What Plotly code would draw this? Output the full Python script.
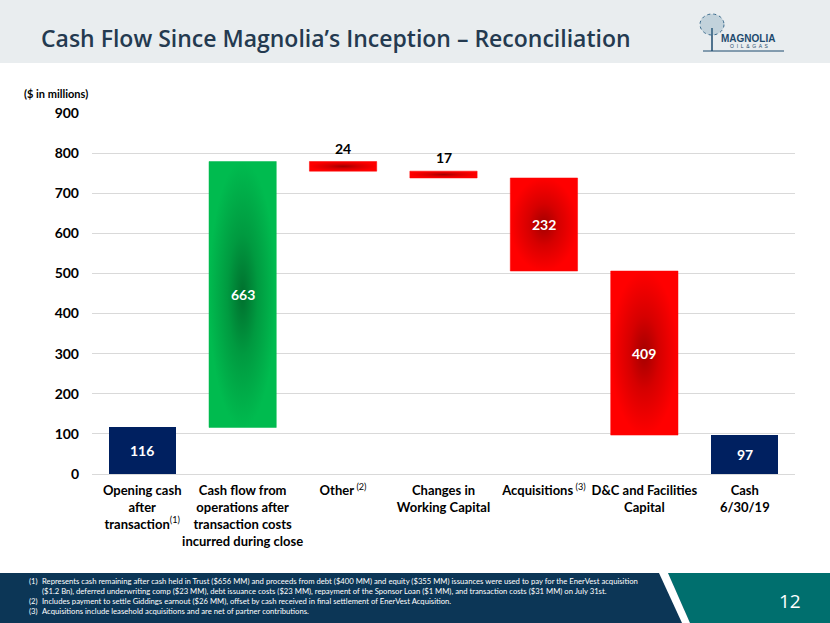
import plotly.graph_objects as go

# ---------------- data ----------------
categories = [
    "<b>Opening cash<br>after<br>transaction</b><sup>(1)</sup>",
    "<b>Cash flow from<br>operations after<br>transaction costs<br>incurred during close</b>",
    "<b>Other</b><sup> (2)</sup>",
    "<b>Changes in<br>Working Capital</b>",
    "<b>Acquisitions</b><sup> (3)</sup>",
    "<b>D&C and Facilities<br>Capital</b>",
    "<b>Cash<br>6/30/19</b>",
]
values = [116, 663, -24, -17, -232, -409, 97]
measures = ["total", "relative", "relative", "relative", "relative", "relative", "total"]
label_text = ["116", "663", "24", "17", "232", "409", "97"]
label_outside = [False, False, True, True, False, False, False]
y_ticks = [0, 100, 200, 300, 400, 500, 600, 700, 800, 900]

footnotes = [
    ("(1)", "Represents cash remaining after cash held in Trust ($656 MM) and proceeds from debt ($400 MM) and equity ($355 MM) issuances were used to pay for the EnerVest acquisition"),
    ("", "($1.2 Bn), deferred underwriting comp ($23 MM), debt issuance costs ($23 MM), repayment of the Sponsor Loan ($1 MM), and transaction costs ($31 MM) on July 31st."),
    ("(2)", "Includes payment to settle Giddings earnout ($26 MM), offset by cash received in final settlement of EnerVest Acquisition."),
    ("(3)", "Acquisitions include leasehold acquisitions and are net of partner contributions."),
]

# ---------------- styles ----------------
NAVY = "#002060"
GREEN_SCALE = [[0, "#00702e"], [0.45, "#009a40"], [1, "#00bb4f"]]
RED_SCALE = [[0, "#a30000"], [0.45, "#d60000"], [1, "#ff0000"]]
BAR_W = 0.67
FONT = "Lato, 'Open Sans', Arial, sans-serif"

W, H = 830, 623
L, R, T, B = 92, 35, 113, 149
PW, PH = W - L - R, H - T - B


def px(x):
    return (x - L) / PW


def py(y):
    return (H - B - y) / PH


fig = go.Figure()

# compute waterfall floats from data
bases, tops = [], []
running = 0
for v, m in zip(values, measures):
    if m == "total":
        b, t = 0, v
        running = v
    else:
        b, t = running, running + v
        running += v
    bases.append(min(b, t))
    tops.append(max(b, t))

xs = list(range(len(categories)))
for i, (lo, hi, v, m) in enumerate(zip(bases, tops, values, measures)):
    x0, x1 = i - BAR_W / 2, i + BAR_W / 2
    if m == "total":
        fig.add_trace(go.Bar(x=[i], y=[hi - lo], base=[lo], width=BAR_W,
                             marker=dict(color=NAVY, line=dict(width=0)),
                             showlegend=False, hoverinfo="skip"))
    else:
        scale = GREEN_SCALE if v > 0 else RED_SCALE
        fig.add_trace(go.Scatter(
            x=[x0, x1, x1, x0, x0], y=[lo, lo, hi, hi, lo],
            mode="lines", fill="toself", line=dict(width=0.5, color=scale[-1][1]),
            fillgradient=dict(type="radial", colorscale=scale),
            showlegend=False, hoverinfo="skip"))

# value labels
for i, (lo, hi, txt, out) in enumerate(zip(bases, tops, label_text, label_outside)):
    if out:
        fig.add_annotation(x=i, y=hi, text=f"<b>{txt}</b>", showarrow=False,
                           yanchor="bottom", yshift=3,
                           font=dict(family=FONT, size=14, color="#000000"))
    else:
        fig.add_annotation(x=i, y=(lo + hi) / 2, text=f"<b>{txt}</b>", showarrow=False,
                           font=dict(family=FONT, size=14, color="#ffffff"))

fig.update_layout(
    width=W, height=H,
    margin=dict(l=L, r=R, t=T, b=B),
    paper_bgcolor="#ffffff", plot_bgcolor="#ffffff",
    bargap=0,
    xaxis=dict(range=[-0.5, len(categories) - 0.5], tickmode="array", tickvals=xs,
               ticktext=categories, tickangle=0, automargin=False,
               showgrid=False, zeroline=False, showline=False, ticks="",
               ticklabelstandoff=7,
               tickfont=dict(family=FONT, size=13, color="#000000"), fixedrange=True),
    yaxis=dict(range=[0, 900], tickmode="array", tickvals=y_ticks,
               ticktext=[f"<b>{t}</b>" for t in y_ticks], automargin=False,
               showgrid=True, gridcolor="#d9d9d9", gridwidth=1, zeroline=True,
               zerolinecolor="#d9d9d9", zerolinewidth=1, ticks="", ticklabelstandoff=12,
               tickfont=dict(family=FONT, size=14, color="#000000"), fixedrange=True),
    font=dict(family=FONT),
)

# header band
fig.add_shape(type="rect", xref="paper", yref="paper", x0=px(0), x1=px(W),
              y0=py(63), y1=py(0), fillcolor="#e9edef", line=dict(width=0), layer="below")
fig.add_annotation(xref="paper", yref="paper", x=px(39), y=py(38),
                   xanchor="left", yanchor="middle", showarrow=False,
                   text="Cash Flow Since Magnolia’s Inception – Reconciliation",
                   font=dict(family="'Open Sans', sans-serif", size=23, color="#243a50", weight=600))

# logo (text + simple tree)
fig.add_annotation(xref="paper", yref="paper", x=px(748), y=py(38),
                   xanchor="center", yanchor="middle", showarrow=False,
                   text="<b>MAGNOLIA</b>",
                   font=dict(family="Arial, sans-serif", size=10, color="#1d4a6e"))
fig.add_annotation(xref="paper", yref="paper", x=px(749), y=py(46),
                   xanchor="center", yanchor="middle", showarrow=False,
                   text="O  I  L  &  G  A  S",
                   font=dict(family="Arial, sans-serif", size=5, color="#1d4a6e"))
fig.add_shape(type="line", xref="paper", yref="paper", x0=px(703), x1=px(784),
              y0=py(51), y1=py(51), line=dict(color="#1d4a6e", width=1))
fig.add_shape(type="line", xref="paper", yref="paper", x0=px(712), x1=px(712),
              y0=py(51), y1=py(28), line=dict(color="#1d4a6e", width=1.5))
fig.add_shape(type="circle", xref="paper", yref="paper", x0=px(700), x1=px(724),
              y0=py(35), y1=py(14), line=dict(color="#3a6a8c", width=1, dash="dot"),
              fillcolor="rgba(80,130,160,0.25)")

# y-axis unit label
fig.add_annotation(xref="paper", yref="paper", x=px(22), y=py(93),
                   xanchor="left", yanchor="middle", showarrow=False,
                   text="<b>($ in millions)</b>",
                   font=dict(family=FONT, size=11, color="#000000"))

# footer band
fy0, fy1 = py(H), py(573)
fig.add_shape(type="rect", xref="paper", yref="paper", x0=px(0), x1=px(W), y0=fy0, y1=fy1,
              fillcolor="#0c3656", line=dict(width=0), layer="below")
fig.add_shape(type="path", xref="paper", yref="paper",
              path=f"M {px(668)} {fy1} L {px(W)} {fy1} L {px(W)} {fy0} L {px(690)} {fy0} Z",
              fillcolor="#006f6e", line=dict(width=0))
fig.add_shape(type="path", xref="paper", yref="paper",
              path=f"M {px(659)} {fy1} L {px(668)} {fy1} L {px(690)} {fy0} L {px(682)} {fy0} Z",
              fillcolor="#ffffff", line=dict(width=0))
fig.add_annotation(xref="paper", yref="paper", x=px(790), y=py(601),
                   xanchor="center", yanchor="middle", showarrow=False, text="12",
                   font=dict(family="'Open Sans', sans-serif", size=19, color="#ffffff"))

line_y = [581, 591, 601, 611]
for (num, txt), yy in zip(footnotes, line_y):
    if num:
        fig.add_annotation(xref="paper", yref="paper", x=px(27), y=py(yy),
                           xanchor="left", yanchor="middle", showarrow=False, text=num,
                           font=dict(family=FONT, size=7.7, color="#ffffff"))
    fig.add_annotation(xref="paper", yref="paper", x=px(40), y=py(yy),
                       xanchor="left", yanchor="middle", showarrow=False, text=txt,
                       font=dict(family=FONT, size=7.7, color="#ffffff"))

fig.write_html("out.html", config={"displayModeBar": False},
               post_script="document.body.style.margin='0';")
